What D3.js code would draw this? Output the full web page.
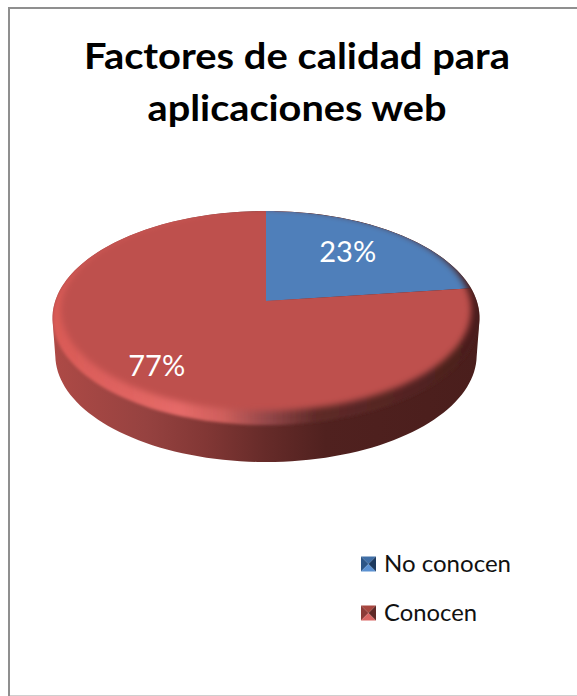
<!DOCTYPE html>
<html>
<head>
<meta charset="utf-8">
<script src="https://cdn.jsdelivr.net/npm/d3@7/dist/d3.min.js"></script>
<style>
html,body{margin:0;padding:0;background:#fff;overflow:hidden}
svg{display:block}
text{font-family:Lato,"Open Sans",sans-serif}
</style>
</head>
<body>
<script>
// Share of respondents who do or do not know the quality factors
const categories = ["No conocen", "Conocen"];
const shares = [23, 77];
const sliceColors = ["#4f7fba", "#be504d"];
const valueLabels = ["23%", "77%"];
const titleLines = ["Factores de calidad para", "aplicaciones web"];

const width = 577, height = 696;
const svg = d3.select("body").append("svg").attr("width", width).attr("height", height);
const defs = svg.append("defs");

// Frame
const frame = svg.append("g");
frame.append("rect").attr("x", 8).attr("y", 7).attr("width", 569).attr("height", 2).attr("fill", "#8f8f8f");
frame.append("rect").attr("x", 8).attr("y", 7).attr("width", 2).attr("height", 689).attr("fill", "#8f8f8f");
frame.append("rect").attr("x", 10).attr("y", 695).attr("width", 567).attr("height", 1).attr("fill", "#cfcfcf");

// Title, set wide to the measure of the chart heading
const titleWidths = [426, 299];
svg.append("g").selectAll("text").data(titleLines).join("text")
  .attr("x", 297).attr("y", (d, i) => 69 + i * 52)
  .attr("text-anchor", "middle").attr("font-size", 36).attr("font-weight", 700)
  .attr("textLength", (d, i) => titleWidths[i]).attr("lengthAdjust", "spacingAndGlyphs")
  .attr("fill", "#000").text(d => d);

// Tilted pie: a circle seen in perspective, so the near edge sits further from the hub
const hub = {x: 266, y: 301};
const outerDisc = {rx: 210.8, ry: 104.3, p: 0.159};
const innerDisc = {rx: 204, ry: 100, p: 0.105};
const wallDisc = {rx: 208, ry: 104.3, p: 0.159};
const wallDepth = 37;

function project(disc, angle, f = 1, dy = 0) {
  const u = Math.sin(angle), v = -Math.cos(angle), w = 1 - disc.p * f * v;
  return [hub.x + disc.rx * f * u / w, hub.y + dy + disc.ry * f * v / w];
}
const trace = d3.line();
const ringAngles = d3.range(0, 361, 2).map(d => d * Math.PI / 180);
const ring = (disc, dy = 0) => ringAngles.map(a => project(disc, a, 1, dy));

const pie = d3.pie().sort(null).value(d => d)(shares);
function slicePath(disc, slice) {
  const n = Math.ceil((slice.endAngle - slice.startAngle) / 0.02);
  const steps = d3.range(n + 1).map(i => slice.startAngle + (slice.endAngle - slice.startAngle) * i / n);
  return trace([[hub.x, hub.y], ...steps.map(a => project(disc, a))]) + "Z";
}

// Paint definitions for the side wall and the bevelled rim
function hGradient(id, stops) {
  const g = defs.append("linearGradient").attr("id", id)
    .attr("gradientUnits", "userSpaceOnUse").attr("x1", 52).attr("x2", 479).attr("y1", 0).attr("y2", 0);
  stops.forEach(([o, c]) => g.append("stop").attr("offset", o).attr("stop-color", c));
}
hGradient("wallPaint", [[0, "#ae4a46"], [0.22, "#964240"], [0.36, "#823735"], [0.5, "#662b29"], [0.64, "#50211f"], [1, "#4a1e1c"]]);
hGradient("rimPaint", [[0, "#d95a56"], [0.3, "#e56a68"], [0.4, "#cf5f5c"], [0.5, "#96484a"], [0.62, "#5e2a28"], [1, "#4a1e1c"]]);

const clipDisc = defs.append("clipPath").attr("id", "discClip");
clipDisc.append("path").attr("d", trace(ring(outerDisc)) + "Z");

const wallClip = defs.append("clipPath").attr("id", "bodyClip");
const softFilter = (id, amount) => defs.append("filter").attr("id", id)
  .attr("x", "-10%").attr("y", "-10%").attr("width", "120%").attr("height", "120%")
  .append("feGaussianBlur").attr("stdDeviation", amount);
softFilter("soft", 3);
softFilter("softEdge", 1.6);
defs.append("mask").attr("id", "faceMask").attr("maskUnits", "userSpaceOnUse")
  .attr("x", 0).attr("y", 0).attr("width", width).attr("height", height)
  .append("path").attr("d", trace(ring(innerDisc, -2)) + "Z").attr("fill", "#fff").attr("filter", "url(#soft)");

const chart = svg.append("g");

// Side wall: lower disc, upper disc and the band joining their widest points
const lowerRing = ring(wallDisc, wallDepth), upperRing = ring(outerDisc);
const widest = r => [d3.least(r, d => d[0]), d3.greatest(r, d => d[0])];
const [ul, ur] = widest(upperRing), [ll, lr] = widest(lowerRing);
const bodyOutline = trace(lowerRing) + "Z" + trace(upperRing) + "Z" + trace([ul, ur, lr, ll]) + "Z";
wallClip.append("path").attr("d", bodyOutline);
chart.append("path").attr("fill", "url(#wallPaint)").attr("d", bodyOutline);

// Rim under the flat face, with a soft edge where it turns into the wall
chart.append("g").attr("clip-path", "url(#bodyClip)")
  .append("path").attr("d", trace(upperRing) + "Z").attr("fill", "url(#rimPaint)").attr("filter", "url(#softEdge)");

// Flat face with one wedge per category
chart.append("g").attr("clip-path", "url(#discClip)")
  .append("g").attr("mask", "url(#faceMask)")
  .selectAll("path").data(pie).join("path")
  .attr("d", d => slicePath(outerDisc, d))
  .attr("fill", (d, i) => sliceColors[i]);

// Value labels placed along each wedge's middle angle, then nudged clear of the bevel
const labelReach = [0.63, 0.735];
const labelNudge = [[0, -4], [3, 2]];
chart.append("g").selectAll("text").data(pie).join("text")
  .attr("transform", (d, i) => {
    const [x, y] = project(outerDisc, (d.startAngle + d.endAngle) / 2, labelReach[i]);
    return `translate(${x + labelNudge[i][0]},${y + labelNudge[i][1]})`;
  })
  .attr("dy", "0.36em").attr("text-anchor", "middle").attr("font-size", 29)
  .attr("fill", "#fff").text((d, i) => valueLabels[i]);

// Legend with pyramid-shaded swatches
const legendShades = [
  {top: "#3f6ea6", left: "#2c5586", bottom: "#5b91d2", right: "#1d3a5e"},
  {top: "#a8463f", left: "#8c3b38", bottom: "#d96664", right: "#5e2826"}
];
const legendY = d3.scalePoint().domain(categories).range([564, 613]);
const swatch = 15;
const legend = svg.append("g").selectAll("g").data(categories).join("g")
  .attr("transform", d => `translate(361,${legendY(d)})`);
const faces = [
  ["top", [[0, 0], [swatch, 0], [swatch / 2, swatch / 2]]],
  ["left", [[0, 0], [0, swatch], [swatch / 2, swatch / 2]]],
  ["bottom", [[0, swatch], [swatch, swatch], [swatch / 2, swatch / 2]]],
  ["right", [[swatch, 0], [swatch, swatch], [swatch / 2, swatch / 2]]]
];
legend.each(function(d, i) {
  d3.select(this).selectAll("path").data(faces).join("path")
    .attr("transform", `translate(0,${-swatch / 2})`)
    .attr("d", f => trace(f[1]) + "Z").attr("fill", f => legendShades[i][f[0]]);
});
const legendWidths = [127, 93];
legend.append("text").attr("x", 23).attr("y", 8).attr("font-size", 23).attr("fill", "#111")
  .attr("textLength", (d, i) => legendWidths[i]).attr("lengthAdjust", "spacingAndGlyphs")
  .text(d => d);
</script>
</body>
</html>
